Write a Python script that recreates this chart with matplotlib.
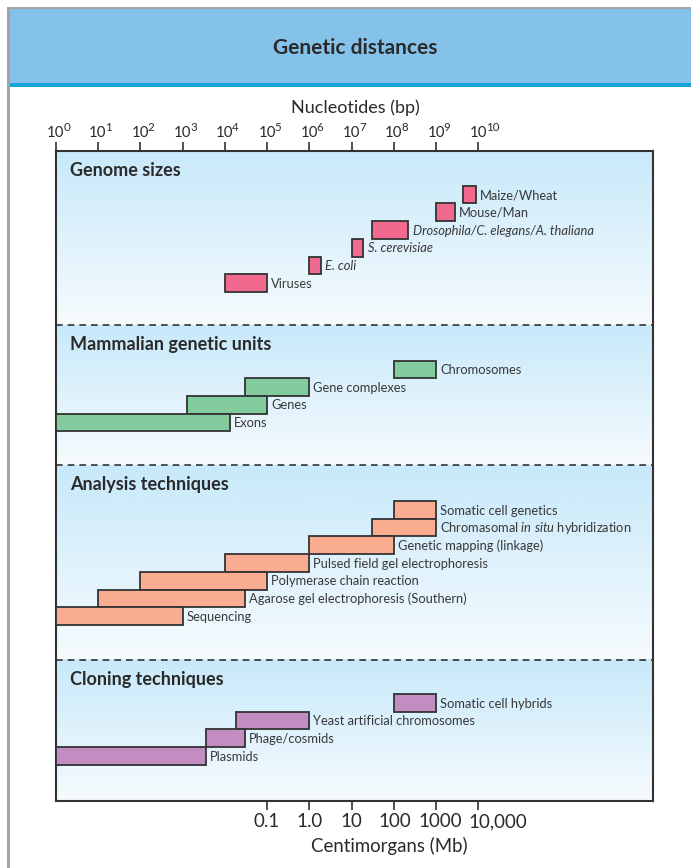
import numpy as np
import matplotlib
matplotlib.use("Agg")
import matplotlib.pyplot as plt
from matplotlib import patches, transforms

plt.rcParams["font.family"] = ["Lato", "DejaVu Sans"]
plt.rcParams["mathtext.fontset"] = "custom"
plt.rcParams["mathtext.rm"] = "Lato"
plt.rcParams["mathtext.it"] = "Lato:italic"

# data (bp ranges)
genome_labels = ["Maize/Wheat", "Mouse/Man", "Drosophila/C. elegans/A. thaliana",
                 "S. cerevisiae", "E. coli", "Viruses"]
genome_italic = [False, False, True, True, True, False]
genome_start = [4.3e9, 1.0e9, 3.0e7, 1.0e7, 1.0e6, 1.0e4]
genome_end = [8.7e9, 2.75e9, 2.2e8, 1.9e7, 1.85e6, 1.0e5]

units_labels = ["Chromosomes", "Gene complexes", "Genes", "Exons"]
units_start = [1e8, 3e4, 1.25e3, 1]
units_end = [1e9, 1e6, 1e5, 1.3e4]

analysis_labels = ["Somatic cell genetics", r"Chromasomal $\mathit{in\ situ}$ hybridization",
                   "Genetic mapping (linkage)", "Pulsed field gel electrophoresis",
                   "Polymerase chain reaction", "Agarose gel electrophoresis (Southern)",
                   "Sequencing"]
analysis_start = [1e8, 3e7, 1e6, 1e4, 1e2, 1e1, 1]
analysis_end = [1e9, 1e9, 1e8, 1e6, 1e5, 3e4, 1e3]

cloning_labels = ["Somatic cell hybrids", "Yeast artificial chromosomes", "Phage/cosmids", "Plasmids"]
cloning_start = [1e8, 1.8e4, 3.6e3, 1]
cloning_end = [1e9, 1e6, 3e4, 3.6e3]

section_titles = ["Genome sizes", "Mammalian genetic units", "Analysis techniques", "Cloning techniques"]

bp_exponents = list(range(0, 11))
cm_ticks = [0.1, 1, 10, 100, 1000, 10000]
cm_ticklabels = ["0.1", "1.0", "10", "100", "1000", "10,000"]

# style
W, H = 691, 868
PINK = "#F2698F"
GREEN = "#82CB9C"
SALMON = "#F9AC90"
PURPLE = "#C28DC0"
EDGE = "#333333"
TEXT = "#2a2a2a"
LABEL = "#383838"
HEADER = "#85C2EA"
HEADER_LINE = "#16A4DB"
GRAY = "#A3A3A3"
GRAD_TOP = np.array([200, 233, 250]) / 255
GRAD_BOT = np.array([246, 251, 254]) / 255

FRAME_L, FRAME_R, FRAME_T, FRAME_B = 55.7, 652.7, 150.7, 800.7
DECADE = 42.27
SECTION_TOPS = [150.7, 325.0, 465.0, 659.5]
FIRST_ROW = [35.0, 35.5, 36.0, 34.5]
PITCH = 17.7
CM_LABEL_SHIFT = [0, 0, 0, 1, 4, 19]  # px, labels are hand placed in the original

fig = plt.figure(figsize=(W / 100, H / 100), dpi=100)

# decoration layer in pixel coordinates
deco = fig.add_axes([0, 0, 1, 1], zorder=0)
deco.set_xlim(0, W)
deco.set_ylim(H, 0)
deco.axis("off")
deco.add_patch(patches.Rectangle((9, 8.5), W, 75, color=HEADER, lw=0))
deco.add_patch(patches.Rectangle((9, 83), W, 4, color=HEADER_LINE, lw=0))
deco.add_patch(patches.Rectangle((7, 7), W, 2.2, color=GRAY, lw=0))
deco.add_patch(patches.Rectangle((7, 7), 2.8, H, color=GRAY, lw=0))
deco.text(355, 48, "Genetic distances", ha="center", va="center", fontsize=15,
          fontweight="bold", color=TEXT)
deco.text(355.5, 108, "Nucleotides (bp)", ha="center", va="center", fontsize=13, color=TEXT)
deco.text(389, 846, "Centimorgans (Mb)", ha="center", va="center", fontsize=13.4, color=TEXT)

rect = [FRAME_L / W, (H - FRAME_B) / H, (FRAME_R - FRAME_L) / W, (FRAME_B - FRAME_T) / H]

# gradient background per section
bg = fig.add_axes(rect, zorder=1)
bg.set_xlim(0, 1)
bg.set_ylim(FRAME_B, FRAME_T)
bg.axis("off")
bounds = SECTION_TOPS + [FRAME_B]
for top, bot in zip(bounds[:-1], bounds[1:]):
    t = np.linspace(0, 1, 64)[:, None]
    grad = GRAD_TOP * (1 - t) + GRAD_BOT * t
    bg.imshow(grad[:, None, :], extent=(0, 1, bot, top), aspect="auto", zorder=0,
              interpolation="bilinear")
bg.set_ylim(FRAME_B, FRAME_T)

ax = fig.add_axes(rect, zorder=2)
ax.set_facecolor("none")
ax.set_xscale("log")
ax.set_xlim(1, 10 ** ((FRAME_R - FRAME_L) / DECADE))
ax.set_ylim(FRAME_B, FRAME_T)
ax.set_yticks([])
for s in ax.spines.values():
    s.set_color(EDGE)
    s.set_linewidth(1.5)

# top axis: nucleotides
ax.xaxis.set_ticks_position("top")
ax.set_xticks([10.0 ** e for e in bp_exponents])
ax.xaxis.set_minor_locator(matplotlib.ticker.NullLocator())
ax.tick_params(axis="x", which="major", direction="out", length=6.5, width=1.2,
               color=EDGE, labeltop=False, labelbottom=False)
shift = transforms.ScaledTranslation
xtr = ax.get_xaxis_transform()
for e in bp_exponents:
    ax.text(10.0 ** e, 1, "10", transform=xtr + shift(0, 14 / 100, fig.dpi_scale_trans),
            ha="center", va="baseline", fontsize=10.8, color=TEXT, clip_on=False)
    ax.text(10.0 ** e, 1, str(e), transform=xtr + shift(7.5 / 100, 19.5 / 100, fig.dpi_scale_trans),
            ha="left", va="baseline", fontsize=8.3, color=TEXT, clip_on=False)

# bottom axis: centimorgans (1 cM ~ 1 Mb)
sec = ax.secondary_xaxis("bottom", functions=(lambda x: x / 1e6, lambda x: x * 1e6))
sec.set_xticks(cm_ticks)
sec.xaxis.set_minor_locator(matplotlib.ticker.NullLocator())
sec.tick_params(axis="x", direction="out", length=6.5, width=1.2, color=EDGE,
                labelbottom=False)
sec.spines["bottom"].set_visible(False)
for cm, lab, dx in zip(cm_ticks, cm_ticklabels, CM_LABEL_SHIFT):
    ax.text(cm * 1e6, 0, lab, transform=xtr + shift(dx / 100, -21 / 100, fig.dpi_scale_trans),
            ha="center", va="center", fontsize=13.5, color=TEXT, clip_on=False)

sections = [
    (genome_labels, genome_start, genome_end, PINK, genome_italic),
    (units_labels, units_start, units_end, GREEN, None),
    (analysis_labels, analysis_start, analysis_end, SALMON, None),
    (cloning_labels, cloning_start, cloning_end, PURPLE, None),
]

title_tr = ax.get_yaxis_transform()
for i, (labels, start, end, color, italic) in enumerate(sections):
    top = SECTION_TOPS[i]
    if italic is None:
        italic = [False] * len(labels)
    if i > 0:
        ax.axhline(top, color=EDGE, lw=1.2, linestyle=(0, (4, 3)), zorder=1)
    ax.text(14.5 / (FRAME_R - FRAME_L), top + 19.5, section_titles[i], transform=title_tr,
            ha="left", va="center", fontsize=13, fontweight="bold", color=TEXT)
    start = np.array(start)
    end = np.array(end)
    ys = top + FIRST_ROW[i] + PITCH * np.arange(len(labels))
    ax.barh(ys, end - start, left=start, height=PITCH, align="edge", color=color,
            edgecolor=EDGE, linewidth=1.3, zorder=3)
    for lab, x, y, it in zip(labels, end, ys, italic):
        ax.annotate(lab, (x, y + PITCH / 2), xytext=(3, -0.5), textcoords="offset points",
                    ha="left", va="center", fontsize=9.3, color=LABEL,
                    fontstyle="italic" if it else "normal")

fig.savefig("out.png", dpi=100)
